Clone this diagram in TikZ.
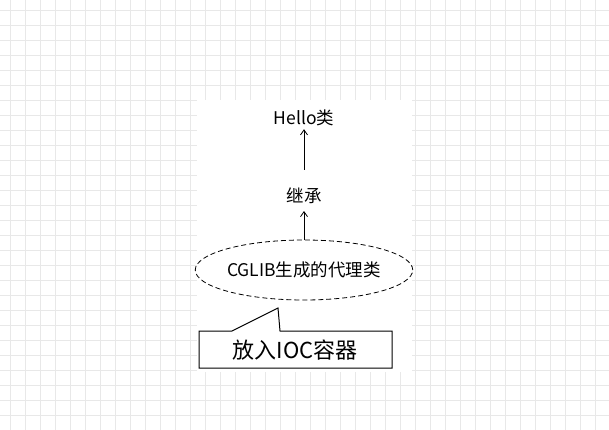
\documentclass[tikz,border=0pt]{standalone}
\usepackage{fontspec}
\setmainfont{Noto Sans CJK SC}
\usetikzlibrary{arrows.meta,shapes.geometric,positioning}
\begin{document}
\begin{tikzpicture}[x=1pt,y=-1pt,
    lbl/.style={inner sep=0pt, font=\fontsize{17.5}{19}\selectfont},
    up/.style={draw, -{Straight Barb[length=5pt,width=7pt]}, line width=0.8pt}]
\useasboundingbox (0,0) rectangle (609,430);
% grid
\fill[white] (0,0) rectangle (609,430);
\foreach \x in {10,25,...,609} \draw[black!9, line width=0.8pt] (\x,0) -- (\x,430);
\foreach \y in {10,25,...,430} \draw[black!9, line width=0.8pt] (0,\y) -- (609,\y);
\fill[white] (197,100) rectangle (412,372);
\node[lbl] (hello) at (304,118) {Hello类};
\node[lbl] (jc) at (304,196) {继承};
\node[draw, dash pattern=on 5pt off 3pt, ellipse, line width=0.8pt, minimum width=214pt, minimum height=60pt,
      inner sep=0pt, font=\fontsize{17.5}{19}\selectfont] (proxy) at (304,270) {CGLIB生成的代理类};
\coordinate (t1) at (304,170);
\coordinate (t2) at (304,211);
\draw[up, shorten >=3pt] (t1) -- (hello.south);
\draw[up] (proxy.north) -- (t2);
\draw[line width=1pt, fill=white] (199,331) -- (232,331) -- (278,308) -- (280,331) -- (392,331)
      -- (392,368) -- (199,368) -- cycle;
\node[inner sep=0pt, font=\fontsize{22}{24}\selectfont] (ioc) at (295,350) {放入IOC容器};
\end{tikzpicture}
\end{document}
